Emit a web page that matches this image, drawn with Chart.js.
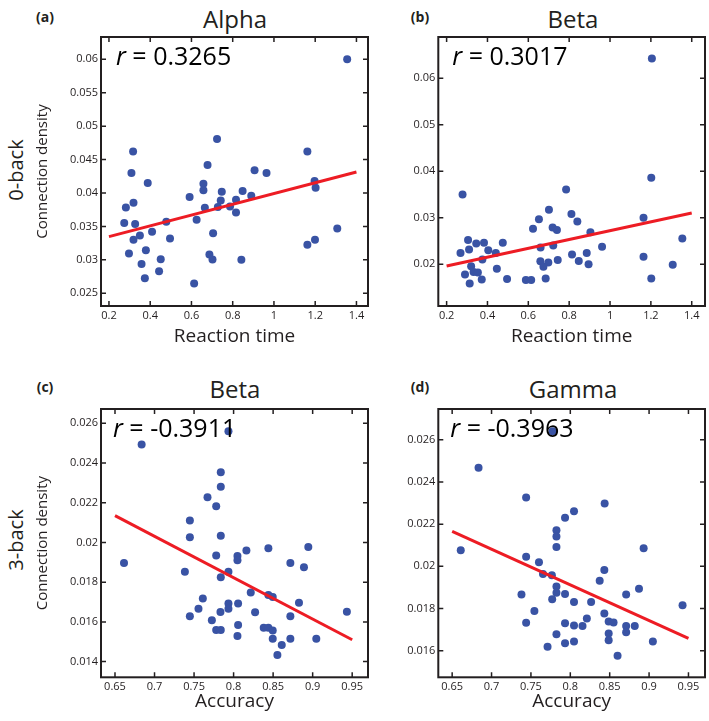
<!DOCTYPE html>
<html><head><meta charset="utf-8">
<script src="https://cdn.jsdelivr.net/npm/chart.js@4.4.1/dist/chart.umd.min.js"></script>
<style>
html,body{margin:0;padding:0;background:#fff;}
body{width:709px;height:721px;position:relative;overflow:hidden;font-family:"Open Sans",sans-serif;color:#231f20;}
canvas{position:absolute;}
.lbl{position:absolute;white-space:nowrap;line-height:1;transform:translate(-50%,-50%);}
.pl{font-weight:bold;font-size:14px;}
.tt{font-size:24px;}
.rot{font-size:20px;transform:translate(-50%,-50%) rotate(-90deg);}
</style></head><body>
<div class="lbl pl" style="left:45px;top:17px">(a)</div>
<div class="lbl tt" style="left:235px;top:19px">Alpha</div>
<div class="lbl pl" style="left:420px;top:17px">(b)</div>
<div class="lbl tt" style="left:573px;top:19px">Beta</div>
<div class="lbl pl" style="left:45px;top:387px">(c)</div>
<div class="lbl tt" style="left:235px;top:389px">Beta</div>
<div class="lbl pl" style="left:420px;top:387px">(d)</div>
<div class="lbl tt" style="left:573px;top:389px">Gamma</div>
<div class="lbl rot" style="left:16px;top:170px">0-back</div>
<div class="lbl rot" style="left:16px;top:540px">3-back</div>
<canvas id="ca" width="372" height="352" style="left:0;top:0"></canvas>
<canvas id="cb" width="337" height="352" style="left:372px;top:0"></canvas>
<canvas id="cc" width="372" height="349" style="left:0;top:372px"></canvas>
<canvas id="cd" width="337" height="349" style="left:372px;top:372px"></canvas>
<script>
// ---- data ----
const aRT = [1.355,0.724,0.317,1.162,0.309,0.678,0.906,0.964,0.388,0.658,0.658,0.747,0.848,1.197,1.202,0.591,0.890,0.816,0.742,0.319,0.282,0.665,0.728,0.787,0.816,0.274,0.327,0.478,0.625,0.319,0.350,0.409,0.496,0.705,0.297,0.379,0.687,0.702,0.451,0.842,0.358,0.443,0.374,0.613,1.162,1.199,1.307];
const aDensity = [0.0600,0.0481,0.0462,0.0462,0.0430,0.0442,0.0434,0.0430,0.0415,0.0414,0.0404,0.0402,0.0403,0.0418,0.0408,0.0394,0.0396,0.0390,0.0389,0.03855,0.03785,0.0378,0.0379,0.0380,0.0371,0.0355,0.03535,0.0357,0.0360,0.0330,0.03365,0.0342,0.0332,0.0340,0.03095,0.03145,0.0308,0.03005,0.0301,0.0300,0.0294,0.0283,0.02725,0.02645,0.03225,0.0330,0.0347];
const aFitX = [0.2, 1.4];
const aFitY = [0.03348, 0.04315];
const aR = "0.3265";

const bRT = [1.205,1.202,0.278,0.785,0.701,0.811,0.652,1.164,0.840,0.623,0.719,0.740,0.904,0.305,0.345,0.383,0.475,0.310,0.404,0.268,0.441,0.660,0.722,0.961,1.354,0.814,0.886,1.164,0.375,0.744,0.847,0.659,0.698,0.895,1.307,0.446,0.674,0.290,0.320,0.332,0.353,0.372,0.313,0.496,0.588,0.614,0.685,1.202];
const bDensity = [0.06425,0.0386,0.0350,0.0361,0.0317,0.0308,0.02966,0.0300,0.0292,0.02764,0.0279,0.02735,0.0269,0.0252,0.02447,0.0246,0.0246,0.02317,0.0230,0.0224,0.0224,0.0236,0.0240,0.02375,0.02555,0.0221,0.0224,0.0216,0.0210,0.0209,0.0207,0.02065,0.02036,0.0200,0.0199,0.0190,0.01943,0.01777,0.01957,0.01834,0.0182,0.0167,0.01582,0.0168,0.01661,0.01661,0.0169,0.0169];
const bFitX = [0.2, 1.4];
const bFitY = [0.0196, 0.0310];
const bR = "0.3017";

const cAcc = [0.7935,0.6837,0.7838,0.7838,0.767,0.778,0.7447,0.7447,0.7838,0.844,0.8945,0.8162,0.8049,0.8049,0.778,0.6614,0.8718,0.889,0.7384,0.7935,0.7838,0.8217,0.844,0.8495,0.7611,0.8827,0.7935,0.8057,0.7935,0.7556,0.7834,0.8272,0.7447,0.8718,0.9433,0.7725,0.8057,0.778,0.7838,0.8381,0.844,0.8495,0.8049,0.8495,0.8718,0.9046,0.8609,0.8554];
const cDensity = [0.0256,0.02493,0.02354,0.0228,0.02227,0.02182,0.0211,0.02026,0.02034,0.01971,0.01977,0.0196,0.01932,0.0191,0.01934,0.01897,0.01897,0.01875,0.01852,0.01852,0.01825,0.01748,0.01735,0.01725,0.01718,0.01696,0.01693,0.01693,0.01666,0.01666,0.0165,0.01648,0.01629,0.01629,0.01651,0.01608,0.01584,0.01559,0.01559,0.0157,0.0157,0.01557,0.01529,0.01515,0.01515,0.01515,0.01484,0.01433];
const cFitX = [0.65, 0.95];
const cFitY = [0.02135, 0.0151];
const cR = "-0.3911";

const dAcc = [0.7774,0.6835,0.7439,0.8436,0.8047,0.7933,0.7824,0.7824,0.7824,0.6609,0.8931,0.7439,0.7602,0.7653,0.7766,0.8432,0.8373,0.7824,0.7824,0.7933,0.8709,0.8872,0.738,0.777,0.8047,0.8264,0.9425,0.7544,0.8432,0.821,0.8487,0.8549,0.7439,0.7933,0.8047,0.8155,0.8709,0.8818,0.8487,0.8709,0.7824,0.8487,0.7933,0.8047,0.9048,0.7711,0.86];
const dDensity = [0.0264,0.02467,0.02326,0.02298,0.02261,0.0223,0.02171,0.02141,0.02092,0.02076,0.02086,0.02046,0.02019,0.01964,0.01958,0.01983,0.01932,0.01904,0.01875,0.01869,0.01866,0.01894,0.01866,0.01844,0.01831,0.01831,0.01815,0.01788,0.01777,0.01753,0.01738,0.01734,0.01733,0.0173,0.01719,0.01717,0.01717,0.01717,0.01682,0.01687,0.01678,0.0165,0.01636,0.01644,0.01644,0.01619,0.01576];
const dFitX = [0.65, 0.95];
const dFitY = [0.02166, 0.01658];
const dR = "-0.3963";

const rtTickLabels = ["0.2","0.4","0.6","0.8","1","1.2","1.4"];
const accTickLabels = ["0.65","0.7","0.75","0.8","0.85","0.9","0.95"];
const aYTickLabels = ["0.025","0.03","0.035","0.04","0.045","0.05","0.055","0.06"];
const bYTickLabels = ["0.02","0.03","0.04","0.05","0.06"];
const cYTickLabels = ["0.014","0.016","0.018","0.02","0.022","0.024","0.026"];
const dYTickLabels = ["0.016","0.018","0.02","0.022","0.024","0.026"];

// ---- drawing ----
const FONT = "'Open Sans', sans-serif";
const INK = '#231f20';
const DOT = '#3953a4';
const RED = '#ed1c24';

const framePlugin = {
  id: 'frame',
  beforeDatasetsDraw(chart) {
    const {ctx, chartArea: a, scales: {x, y}} = chart;
    ctx.save();
    ctx.strokeStyle = INK;
    ctx.lineWidth = 1.5;
    const L = 5;
    ctx.beginPath();
    x.ticks.forEach(t => {
      const p = x.getPixelForValue(t.value);
      ctx.moveTo(p, a.bottom); ctx.lineTo(p, a.bottom - L);
      ctx.moveTo(p, a.top); ctx.lineTo(p, a.top + L);
    });
    y.ticks.forEach(t => {
      const p = y.getPixelForValue(t.value);
      ctx.moveTo(a.left, p); ctx.lineTo(a.left + L, p);
      ctx.moveTo(a.right, p); ctx.lineTo(a.right - L, p);
    });
    ctx.stroke();
    ctx.lineWidth = 2;
    ctx.strokeRect(a.left, a.top, a.right - a.left, a.bottom - a.top);
    ctx.restore();
  },
  afterDatasetsDraw(chart, args, opts) {
    const {ctx, chartArea: a} = chart;
    ctx.save();
    ctx.fillStyle = '#000';
    ctx.textBaseline = 'middle';
    let xx = a.left + opts.dx;
    const yy = a.top + 21;
    ctx.font = "italic 25px " + FONT;
    ctx.fillText('r', xx, yy);
    xx += ctx.measureText('r').width;
    ctx.font = "25px " + FONT;
    ctx.fillText(' = ' + opts.r, xx, yy);
    ctx.restore();
  }
};

function makePanel(id, p) {
  const tickFont = {family: FONT, size: 11};
  new Chart(document.getElementById(id), {
    type: 'scatter',
    data: {
      datasets: [
        {data: p.fitX.map((v, i) => ({x: v, y: p.fitY[i]})), showLine: true, borderColor: RED, borderWidth: 3, pointRadius: 0, fill: false},
        {data: p.xs.map((v, i) => ({x: v, y: p.ys[i]})), backgroundColor: DOT, borderColor: DOT, borderWidth: 0, pointRadius: 4}
      ]
    },
    options: {
      responsive: false, animation: false, devicePixelRatio: 1,
      layout: {padding: p.pad},
      plugins: {legend: {display: false}, tooltip: {enabled: false}, frame: {r: p.r, dx: p.dx}},
      scales: {
        x: {
          type: 'linear', min: p.xMin, max: p.xMax,
          grid: {display: false, drawTicks: false}, border: {display: false},
          afterBuildTicks: s => { s.ticks = p.xTicks.map(l => ({value: parseFloat(l)})); },
          afterFit: s => { s.height = p.xH; },
          ticks: {padding: 3, color: INK, font: tickFont, maxRotation: 0, autoSkip: false,
                  callback: (v, i) => p.xTicks[i]},
          title: {display: true, text: p.xTitle, color: INK, font: {family: FONT, size: 19}, padding: {top: 0, bottom: p.xTitlePad}}
        },
        y: {
          type: 'linear', min: p.yMin, max: p.yMax,
          grid: {display: false, drawTicks: false}, border: {display: false},
          afterBuildTicks: s => { s.ticks = p.yTicks.map(l => ({value: parseFloat(l)})); },
          afterFit: s => { s.width = p.yW; },
          ticks: {padding: 3, color: INK, font: tickFont, autoSkip: false,
                  callback: (v, i) => p.yTicks[i]},
          title: {display: !!p.yTitle, text: p.yTitle || '', color: INK, font: {family: FONT, size: 15}, padding: {top: 6, bottom: 0}}
        }
      }
    },
    plugins: [framePlugin]
  });
}

makePanel('ca', {xs: aRT, ys: aDensity, fitX: aFitX, fitY: aFitY, r: aR, dx: 15,
  xTicks: rtTickLabels, yTicks: aYTickLabels, xMin: 0.1614, xMax: 1.456, yMin: 0.0231, yMax: 0.06334,
  pad: {left: 28, top: 37, right: 2.7, bottom: 0}, yW: 73, xH: 46, xTitle: 'Reaction time', xTitlePad: 4, yTitle: 'Connection density'});
makePanel('cb', {xs: bRT, ys: bDensity, fitX: bFitX, fitY: bFitY, r: bR, dx: 14,
  xTicks: rtTickLabels, yTicks: bYTickLabels, xMin: 0.1593, xMax: 1.465, yMin: 0.011, yMax: 0.0689,
  pad: {left: 0, top: 37, right: 1.3, bottom: 0}, yW: 66.3, xH: 46, xTitle: 'Reaction time', xTitlePad: 4, yTitle: ''});
makePanel('cc', {xs: cAcc, ys: cDensity, fitX: cFitX, fitY: cFitY, r: cR, dx: 12,
  xTicks: accTickLabels, yTicks: cYTickLabels, xMin: 0.6323, xMax: 0.970, yMin: 0.01321, yMax: 0.02672,
  pad: {left: 28, top: 37, right: 2.7, bottom: 0}, yW: 73, xH: 43.7, xTitle: 'Accuracy', xTitlePad: 8, yTitle: 'Connection density'});
makePanel('cd', {xs: dAcc, ys: dDensity, fitX: dFitX, fitY: dFitY, r: dR, dx: 12,
  xTicks: accTickLabels, yTicks: dYTickLabels, xMin: 0.6324, xMax: 0.971, yMin: 0.01474, yMax: 0.02746,
  pad: {left: 0, top: 37, right: 1.3, bottom: 0}, yW: 66.3, xH: 43.7, xTitle: 'Accuracy', xTitlePad: 8, yTitle: ''});
</script>
</body></html>
